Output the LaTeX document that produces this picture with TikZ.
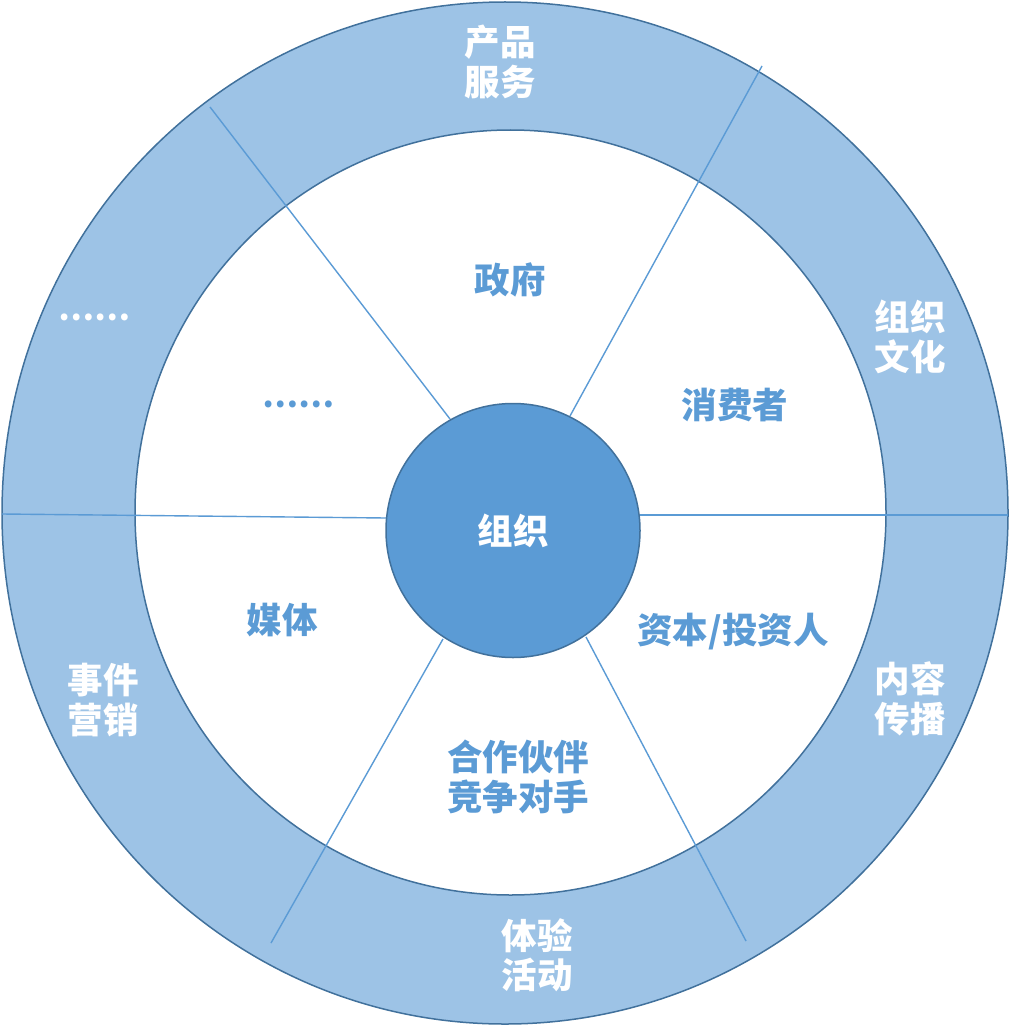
\documentclass[tikz,border=0pt]{standalone}
\usepackage{fontspec}
\newfontfamily\cjk{Noto Sans CJK SC}
\definecolor{ringfill}{HTML}{9DC3E6}
\definecolor{edge}{HTML}{41719C}
\definecolor{core}{HTML}{5B9BD5}
\definecolor{txtblue}{HTML}{5B9BD5}
\tikzset{
  ringtxt/.style={text=white,font=\cjk\bfseries\fontsize{35.5}{39.5}\selectfont,align=center,inner sep=0pt},
  intxt/.style={text=txtblue,font=\cjk\bfseries\fontsize{35.5}{40}\selectfont,align=center,inner sep=0pt},
  dotstxt/.style={font=\cjk\bfseries\fontsize{32}{36}\selectfont,inner sep=0pt},
  divider/.style={draw=core,line width=1.4pt},
}
\begin{document}
\begin{tikzpicture}[x=1pt,y=-1pt]
\useasboundingbox (0,0) rectangle (1010,1030);
% rings
\draw[fill=ringfill,draw=edge,line width=1.5pt] (505,513) ellipse [x radius=503,y radius=511];
\draw[fill=white,draw=edge,line width=1.5pt] (510.5,512.5) ellipse [x radius=375.5,y radius=382.5];
% divider end points
\coordinate (a1) at (210,107);  \coordinate (a2) at (450,419);
\coordinate (b1) at (762,66);   \coordinate (b2) at (570,416);
\coordinate (c1) at (640,515);  \coordinate (c2) at (1008,515);
\coordinate (d1) at (2,514);    \coordinate (d2) at (386,518);
\coordinate (e1) at (443,639);  \coordinate (e2) at (271,943);
\coordinate (f1) at (586,637);  \coordinate (f2) at (746,941);
\draw[divider] (a1) -- (a2);
\draw[divider] (b1) -- (b2);
\draw[divider] (c1) -- (c2);
\draw[divider] (d1) -- (d2);
\draw[divider] (e1) -- (e2);
\draw[divider] (f1) -- (f2);
% core
\node[circle,minimum size=254pt,inner sep=0pt,fill=core,draw=edge,line width=1.5pt,
      text=white,font=\cjk\bfseries\fontsize{35.5}{40}\selectfont] (org) at (513,530.5) {组织};
% ring labels
\node[ringtxt] (t1) at (500,62)  {产品\\服务};
\node[ringtxt] (t2) at (910,337) {组织\\文化};
\node[ringtxt] (t3) at (910,699) {内容\\传播};
\node[ringtxt] (t4) at (537,955) {体验\\活动};
\node[ringtxt] (t5) at (103,700) {事件\\营销};
\node[dotstxt,text=white] (t6) at (94,317)  {……};
% inner labels
\node[intxt] (s1) at (510,280) {政府};
\node[intxt] (s2) at (735,405) {消费者};
\node[intxt] (s3) at (733,632) {资本/投资人};
\node[intxt] (s4) at (518,777) {合作伙伴\\竞争对手};
\node[intxt] (s5) at (282,620) {媒体};
\node[dotstxt,text=txtblue] (s6) at (298,404) {……};
\end{tikzpicture}
\end{document}
